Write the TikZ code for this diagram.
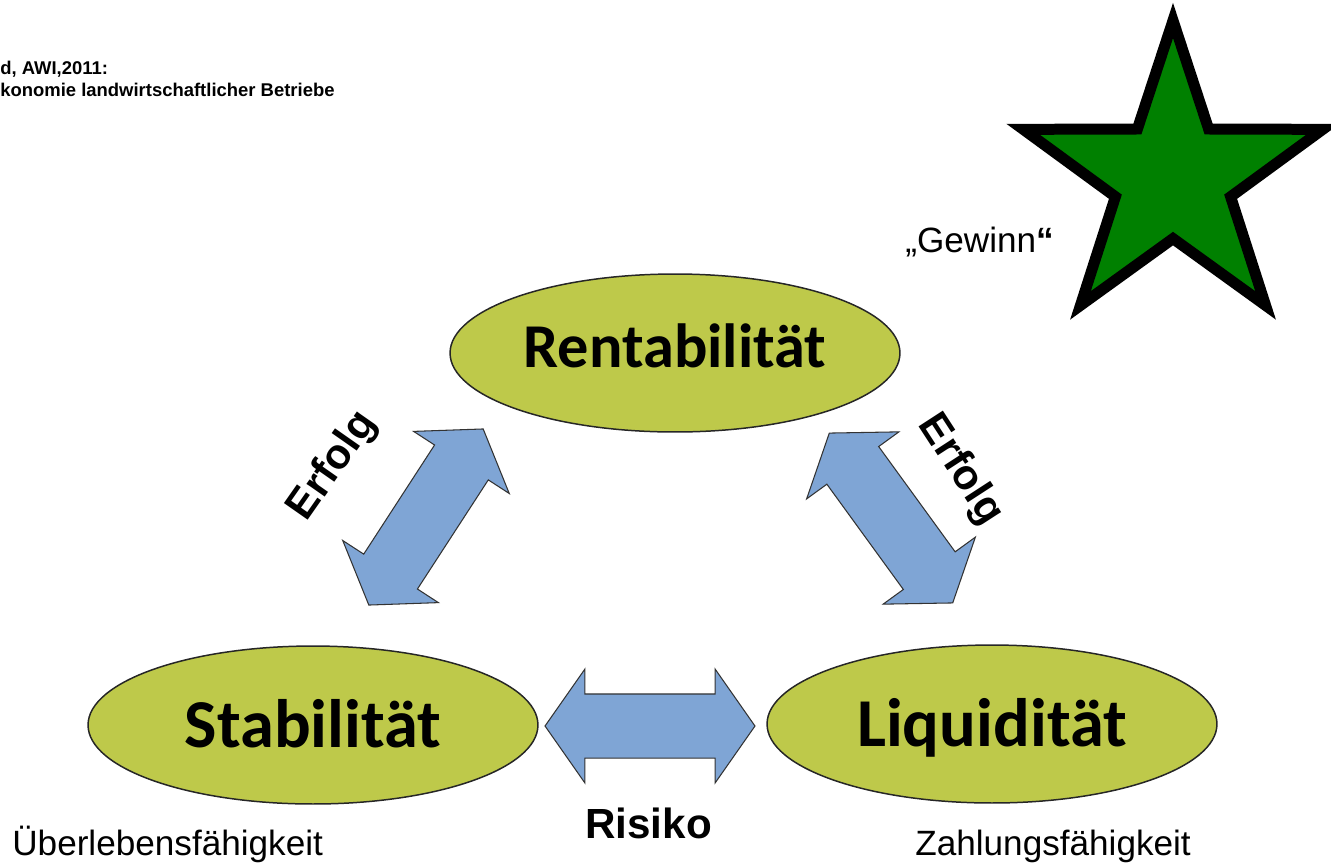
\documentclass[tikz,border=0pt]{standalone}
\usepackage{fontspec}
\newfontfamily\arialfont{Liberation Sans}
\newfontfamily\calfont{Carlito}
\usetikzlibrary{shapes.geometric,shapes.arrows,positioning}
\definecolor{ovfill}{HTML}{BEC94A}
\definecolor{arrfill}{HTML}{7FA5D5}
\definecolor{stargreen}{HTML}{008000}
\tikzset{
  goal/.style={ellipse,draw=black!85,line width=0.85pt,fill=ovfill,inner sep=0pt,
    minimum width=9cm,minimum height=3.16cm,text depth=0pt,font=\calfont\bfseries\fontsize{35.5}{40}\selectfont},
  bgoal/.style={goal,font=\calfont\bfseries\fontsize{39}{44}\selectfont,text height=0.88cm},
  blockarr/.style={double arrow,draw=black!80,line width=0.6pt,fill=arrfill,inner xsep=0pt,inner ysep=0.63cm,
    minimum height=4.2cm,double arrow head extend=0.5cm,double arrow tip angle=110},
  lab/.style={font=\arialfont\fontsize{20}{24}\selectfont,inner sep=0pt,anchor=base west},
  blab/.style={font=\arialfont\bfseries\fontsize{24}{28}\selectfont,inner sep=0pt},
}
\begin{document}
\begin{tikzpicture}[x=0.02cm,y=-0.02cm]
\useasboundingbox (0,0) rectangle (1331,866);
% source line, cut off at the left edge
\node[font=\arialfont\bfseries\fontsize{10.5}{12.5}\selectfont,align=left,anchor=north west,inner sep=0pt] (src) at (0,61)
  {d, AWI,2011:\\konomie landwirtschaftlicher Betriebe};
% the three goals
\node[goal,text height=0.56cm] (rent) at (675,353) {Rentabilität};
\node[bgoal] (stab) at (313,725) {Stabilität};
\node[bgoal] (liq) at (992,724) {Liquidität};
% block arrows between them
\node[blockarr,rotate=57] (a1) at (426,517) {};
\node[blockarr,rotate=-54] (a2) at (891,518) {};
\node[blockarr] (a3) at (650,726) {};
\node[blab,rotate=55] (e1) at (333,466) {Erfolg};
\node[blab,rotate=-57] (e2) at (960,470) {Erfolg};
\node[blab,anchor=base west] (risk) at (585,838) {Risiko};
% notes
\node[lab] (surv) at (12,855) {Überlebensfähigkeit};
\node[lab] (pay) at (915,855) {Zahlungsfähigkeit};
\node[lab] (gain) at (905,252) {„Gewinn{\bfseries“}};
\node[star,star points=5,star point ratio=2.6,minimum size=6.3cm,inner sep=0pt,
  draw=black,line width=0.22cm,fill=stargreen] (star) at (1173,178) {};
\end{tikzpicture}
\end{document}
